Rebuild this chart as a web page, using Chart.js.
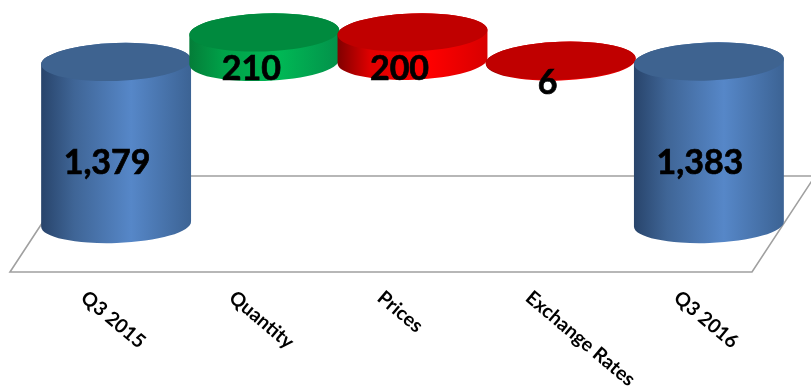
<!DOCTYPE html>
<html>
<head>
<meta charset="utf-8">
<style>
  html, body { margin: 0; padding: 0; background: #fff; }
  canvas { display: block; }
</style>
<script src="https://cdn.jsdelivr.net/npm/chart.js@4/dist/chart.umd.js"></script>
</head>
<body>
<canvas id="chart" width="811" height="388"></canvas>
<script>
const categories = ["Q3 2015", "Quantity", "Prices", "Exchange Rates", "Q3 2016"];
const shownValues = [1379, 210, 200, 6, 1383];
const barLows = [0, 1379, 1389, 1383, 0];
const barHighs = [1379, 1630, 1630, 1389, 1383];
const barKinds = ["total", "up", "down", "down", "total"];

const palette = {
  total: { top: "#3e6390", stops: ["#28446b", "#3f6596", "#5687c8", "#3c6394"] },
  up: { top: "#008a3e", stops: ["#047d38", "#00a048", "#00b855", "#03914a"] },
  down: { top: "#c00000", stops: ["#800000", "#e00000", "#ff0000", "#d80000"] },
};
const stopAt = [0, 0.22, 0.6, 1];
const capHeight = 19;
const tilt = 0.035;

// Category axis whose slanted labels run down to the right from their start
class SlantScale extends Chart.CategoryScale {
  static id = "slant";
  static defaults = Chart.CategoryScale.defaults;
  _computeLabelItems(chartArea) {
    const items = super._computeLabelItems(chartArea);
    items.forEach((item) => {
      item.options.textAlign = "left";
      item.options.textBaseline = "middle";
      item.options.translation[0] -= 40;
      item.options.translation[1] = 295;
      item.textOffset = 0;
    });
    return items;
  }
}
Chart.register(SlantScale);

// Floor of the 3D plot
const floorPlugin = {
  id: "floor",
  beforeDatasetsDraw(chart) {
    const { ctx, chartArea } = chart;
    const front = chartArea.bottom;
    const back = front - 96;
    ctx.save();
    ctx.strokeStyle = "#a0a0a0";
    ctx.lineWidth = 1.6;
    ctx.beginPath();
    ctx.moveTo(10, front);
    ctx.lineTo(752, front);
    ctx.lineTo(815, back);
    ctx.lineTo(73, back);
    ctx.closePath();
    ctx.stroke();
    ctx.restore();
  },
};

// Draw each bar as a cylinder, then its value on top
const cylinderPlugin = {
  id: "cylinders",
  afterDatasetsDraw(chart) {
    const { ctx } = chart;
    const bars = chart.getDatasetMeta(0).data;

    bars.forEach((bar, i) => {
      const colors = palette[barKinds[i]];
      const rx = bar.width / 2;
      const top = Math.min(bar.y, bar.base);
      const bottom = Math.max(bar.y, bar.base);

      const shade = ctx.createLinearGradient(bar.x - rx, 0, bar.x + rx, 0);
      colors.stops.forEach((c, k) => shade.addColorStop(stopAt[k], c));

      ctx.save();
      ctx.fillStyle = shade;
      ctx.beginPath();
      ctx.ellipse(bar.x, bottom, rx, capHeight, -tilt, Math.PI, 0, true);
      ctx.ellipse(bar.x, top, rx, capHeight, -tilt, 0, Math.PI, true);
      ctx.closePath();
      ctx.fill();

      ctx.fillStyle = colors.top;
      ctx.beginPath();
      ctx.ellipse(bar.x, top, rx, capHeight, -tilt, 0, Math.PI * 2);
      ctx.fill();
      ctx.restore();
    });

    ctx.save();
    ctx.fillStyle = "#000";
    ctx.strokeStyle = "#000";
    ctx.lineWidth = 0.7;
    ctx.font = "bold 34px Lato";
    ctx.textAlign = "center";
    ctx.textBaseline = "middle";
    bars.forEach((bar, i) => {
      const top = Math.min(bar.y, bar.base);
      const bottom = Math.max(bar.y, bar.base);
      const tall = bottom - top > 100;
      const text = shownValues[i].toLocaleString("en-US");
      const x = bar.x + (tall ? -9 : -13);
      const y = (top + bottom) / 2 + (tall ? 20 : 22);
      ctx.fillText(text, x, y);
      ctx.strokeText(text, x, y);
    });
    ctx.restore();
  },
};

new Chart(document.querySelector("#chart"), {
  type: "bar",
  data: {
    labels: categories,
    datasets: [
      {
        data: barLows.map((low, i) => [low, barHighs[i]]),
        backgroundColor: "rgba(0,0,0,0)",
        borderWidth: 0,
        barThickness: 150,
      },
    ],
  },
  options: {
    responsive: false,
    animation: false,
    layout: { padding: { left: 42, right: 28, top: 0, bottom: 0 } },
    plugins: { legend: { display: false }, tooltip: { enabled: false } },
    scales: {
      x: {
        type: "slant",
        offset: true,
        grid: { display: false },
        border: { display: false },
        ticks: {
          autoSkip: false,
          minRotation: -40,
          maxRotation: -40,
          color: "#000",
          font: { family: "Lato", weight: "bold", size: 19.5 },
        },
        afterFit(scale) {
          scale.height = 116;
          scale.paddingLeft = 0;
          scale.paddingRight = 0;
        },
      },
      y: { display: false, min: -408, max: 1906 },
    },
  },
  plugins: [floorPlugin, cylinderPlugin],
});
</script>
</body>
</html>
